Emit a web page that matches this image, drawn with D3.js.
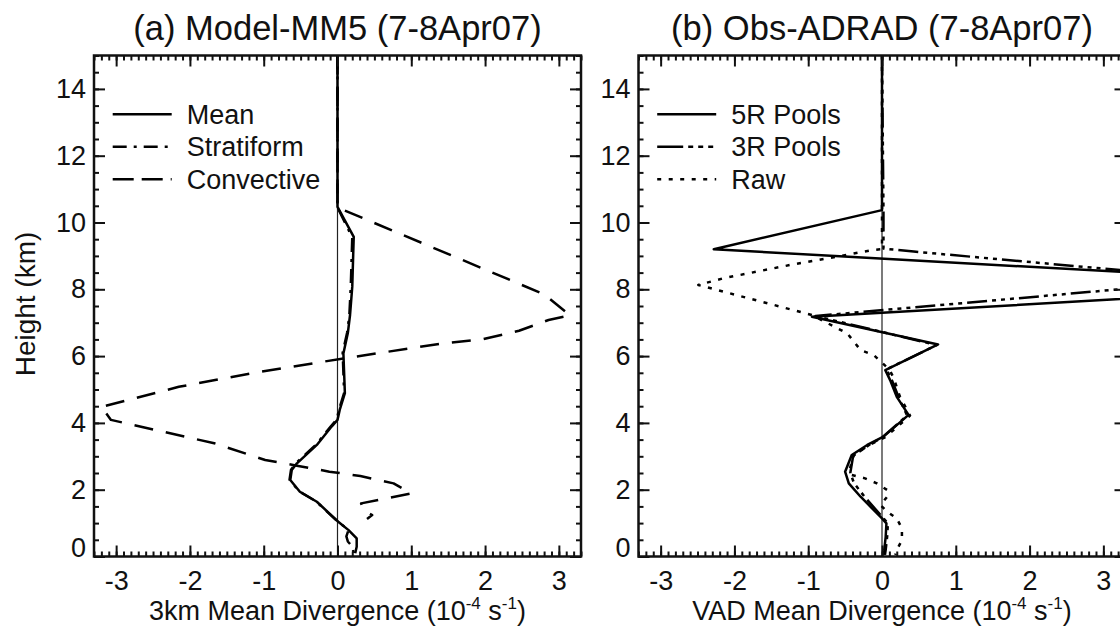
<!DOCTYPE html>
<html>
<head>
<meta charset="utf-8">
<script src="https://cdn.jsdelivr.net/npm/d3@7"></script>
<style>
body { margin: 0; background: #fff; }
svg { display: block; font-family: 'Liberation Sans', Arial, sans-serif; }
</style>
</head>
<body>
<svg id="drawing_region"></svg>
<script>
// divergence (10^-4 s^-1) against height (km)
const meanHgt  = [15, 10.47, 9.57, 8.08, 7.23, 6.69, 6.08, 4.89, 4.39, 4.09, 3.89, 3.34, 2.79, 2.59, 2.29, 1.94, 1.64, 1.04, 0.79, 0.54, 0.29, 0.1];
const meanDiv  = [0, 0, 0.22, 0.2, 0.17, 0.14, 0.08, 0.1, 0.03, 0, -0.08, -0.28, -0.55, -0.62, -0.64, -0.51, -0.28, 0.01, 0.15, 0.26, 0.26, 0.24];
const stratHgt = [15, 10.45, 9.55, 8.1, 7.2, 6.7, 6.1, 4.9, 4.4, 4.1, 3.9, 3.35, 2.8, 2.6, 2.3, 1.95, 1.65, 1.05, 0.8, 0.6, 0.45, 0.3, 0.1];
const stratDiv = [0, 0, 0.2, 0.18, 0.16, 0.13, 0.07, 0.09, 0.02, -0.01, -0.09, -0.29, -0.56, -0.63, -0.65, -0.52, -0.29, 0.0, 0.15, 0.12, 0.14, 0.2, 0.22];
const convHgt  = [15, 10.45, 7.85, 7.22, 7.08, 6.76, 6.51, 6.38, 5.93, 5.48, 5.08, 4.48, 4.09, 3.39, 2.89, 2.72, 2.54, 2.41, 2.19, 1.89, 1.59, 1.39, 1.24, 1.12];
const convDiv  = [0, 0, 2.8, 3.15, 2.86, 2.46, 1.98, 1.43, 0.08, -1.18, -2.15, -3.2, -3.07, -1.67, -0.98, -0.55, -0.11, 0.31, 0.76, 1.0, 0.32, 0.35, 0.47, 0.4];

const r5Hgt  = [15, 10.37, 9.2, 8.12, 7.18, 6.35, 5.58, 5.28, 4.78, 4.24, 3.59, 3.34, 3.04, 2.54, 2.19, 1.79, 1.14, 0.99, 0.59, 0.19, 0.05];
const r5Div  = [0, 0, -2.28, 6.5, -0.95, 0.76, 0.045, 0.11, 0.2, 0.36, 0.02, -0.2, -0.41, -0.5, -0.45, -0.29, 0, 0.06, 0.05, 0.03, 0.02];
const r3Hgt  = [15, 10.35, 9.22, 9.13, 8.5, 8.0, 7.2, 6.33, 5.6, 5.3, 4.8, 4.22, 3.58, 3.33, 3.02, 2.5, 2.2, 1.8, 1.14, 0.99, 0.6, 0.2, 0.05];
const r3Div  = [0, 0.02, 0.02, 0.43, 3.6, 3.22, -0.9, 0.74, 0.06, 0.13, 0.22, 0.34, 0.01, -0.18, -0.39, -0.43, -0.38, -0.24, 0.02, 0.08, 0.07, 0.05, 0.04];
const rawHgt = [15, 9.2, 9.18, 8.98, 8.73, 8.33, 8.13, 7.23, 6.68, 6.18, 6.03, 5.8, 5.6, 5.34, 4.8, 4.22, 3.58, 3.33, 3.04, 2.6, 2.44, 2.34, 2.19, 1.99, 1.79, 1.54, 1.34, 1.14, 0.84, 0.49, 0.19, 0.05];
const rawDiv = [0, 0, -0.11, -0.61, -1.24, -2.15, -2.49, -0.95, -0.47, -0.29, -0.11, 0, 0.1, 0.16, 0.24, 0.38, 0.05, -0.18, -0.38, -0.44, -0.41, -0.23, -0.07, 0.07, 0.07, -0.02, 0.07, 0.2, 0.27, 0.27, 0.2, 0.18];

const xTicks = [-3, -2, -1, 0, 1, 2, 3];
const yTicks = [0, 2, 4, 6, 8, 10, 12, 14];
const xMinor = d3.range(-33, 34).map(d => d / 10);
const yMinor = d3.range(0, 31).map(d => d / 2);

const svg = d3.select('#drawing_region')
    .attr('width', 1120)
    .attr('height', 627);

class Profile {

    constructor( config, series ) {
        this.config = config;
        this.series = series;
        this.init();
    }

    init() {
        let self = this;
        const c = self.config;

        self.chart = svg.append('g')
            .attr('transform', `translate(${c.left}, ${c.top})`);

        self.xscale = d3.scaleLinear()
            .domain([-3.3, 3.3])
            .range([0, c.width]);

        self.yscale = d3.scaleLinear()
            .domain([0, 15])
            .range([c.height, 0]);

        self.chart.append('clipPath')
            .attr('id', c.id + '_clip')
          .append('rect')
            .attr('width', c.width)
            .attr('height', c.height);
    }

    render() {
        let self = this;
        const c = self.config;
        const x = self.xscale, y = self.yscale;

        // zero line
        self.chart.append('line')
            .attr('x1', x(0)).attr('x2', x(0))
            .attr('y1', 0).attr('y2', c.height)
            .attr('stroke', '#222')
            .attr('stroke-width', 1.2);

        const line = d3.line()
            .x(d => x(d[0]))
            .y(d => y(d[1]));

        self.chart.append('g')
            .attr('clip-path', `url(#${c.id}_clip)`)
          .selectAll('path')
            .data(self.series)
            .join('path')
            .attr('d', s => line(d3.zip(s.div, s.hgt)))
            .attr('fill', 'none')
            .attr('stroke', '#000')
            .attr('stroke-width', 2.5)
            .attr('stroke-linejoin', 'round')
            .attr('stroke-dasharray', s => s.dash);

        // axes: ticks point inward on all four sides
        const fmt = d => String(d);
        const axes = [
            [d3.axisBottom(x).tickValues(xTicks).tickSize(-11).tickPadding(14).tickFormat(fmt), `translate(0, ${c.height})`],
            [d3.axisBottom(x).tickValues(xMinor).tickSize(-5).tickFormat(''), `translate(0, ${c.height})`],
            [d3.axisTop(x).tickValues(xTicks).tickSize(-11).tickFormat(''), null],
            [d3.axisTop(x).tickValues(xMinor).tickSize(-5).tickFormat(''), null],
            [d3.axisLeft(y).tickValues(yTicks).tickSize(-11).tickPadding(8).tickFormat(fmt), null],
            [d3.axisLeft(y).tickValues(yMinor).tickSize(-5).tickFormat(''), null],
            [d3.axisRight(y).tickValues(yTicks).tickSize(-11).tickFormat(''), `translate(${c.width}, 0)`],
            [d3.axisRight(y).tickValues(yMinor).tickSize(-5).tickFormat(''), `translate(${c.width}, 0)`]
        ];
        axes.forEach(([ax, tr]) => {
            const g = self.chart.append('g').call(ax);
            if (tr) g.attr('transform', tr);
            g.attr('font-family', null).attr('font-size', 27);
            g.select('.domain').remove();
            g.selectAll('.tick line').attr('stroke', '#111').attr('stroke-width', 2);
            g.selectAll('.tick text').attr('fill', '#111');
        });

        self.chart.append('rect')
            .attr('width', c.width)
            .attr('height', c.height)
            .attr('fill', 'none')
            .attr('stroke', '#111')
            .attr('stroke-width', 2.5);

        // title and axis title
        svg.append('text')
            .attr('x', c.left + c.width / 2)
            .attr('y', 40)
            .attr('text-anchor', 'middle')
            .attr('font-size', 34.5)
            .attr('fill', '#111')
            .text(c.title);

        const xt = svg.append('text')
            .attr('x', c.left + c.width / 2)
            .attr('y', 620)
            .attr('text-anchor', 'middle')
            .attr('font-size', 27)
            .attr('fill', '#111');
        xt.append('tspan').text(c.xlabel + ' (10');
        xt.append('tspan').attr('font-size', 17).attr('dy', -11).text('-4');
        xt.append('tspan').attr('dy', 11).text(' s');
        xt.append('tspan').attr('font-size', 17).attr('dy', -11).text('-1');
        xt.append('tspan').attr('dy', 11).text(')');

        // legend
        const leg = self.chart.append('g')
            .selectAll('g')
            .data(self.series)
            .join('g')
            .attr('transform', (s, i) => `translate(18.7, ${58.8 + i * 32.5})`);
        leg.append('line')
            .attr('x1', 0).attr('x2', 59)
            .attr('stroke', '#000')
            .attr('stroke-width', 2.5)
            .attr('stroke-dasharray', s => s.legendDash || s.dash);
        leg.append('text')
            .attr('x', 74)
            .attr('y', 9.5)
            .attr('font-size', 27)
            .attr('fill', '#111')
            .text(s => s.name);
    }
}

const panelA = new Profile(
    { id: 'a', left: 94, top: 55.5, width: 487, height: 501,
      title: '(a) Model-MM5 (7-8Apr07)', xlabel: '3km Mean Divergence' },
    [
        { name: 'Mean', div: meanDiv, hgt: meanHgt, dash: null },
        { name: 'Stratiform', div: stratDiv, hgt: stratHgt, dash: '14,7,3,7' },
        { name: 'Convective', div: convDiv, hgt: convHgt, dash: '19,13', legendDash: '21,8' }
    ]);
panelA.render();

const panelB = new Profile(
    { id: 'b', left: 638.5, top: 55.5, width: 487, height: 501,
      title: '(b) Obs-ADRAD (7-8Apr07)', xlabel: 'VAD Mean Divergence' },
    [
        { name: '5R Pools', div: r5Div, hgt: r5Hgt, dash: null },
        { name: '3R Pools', div: r3Div, hgt: r3Hgt, dash: '20,5,4,5,4,5,4,5', legendDash: '26,5,5,5,5,5,5,5' },
        { name: 'Raw', div: rawDiv, hgt: rawHgt, dash: '4,7.5' }
    ]);
panelB.render();

svg.append('text')
    .attr('transform', 'translate(35, 304) rotate(-90)')
    .attr('text-anchor', 'middle')
    .attr('font-size', 28)
    .attr('fill', '#111')
    .text('Height (km)');

// IDL lifts the "0" height label off the corner
svg.selectAll('.tick text')
    .filter(function(d) { return d === 0 && +this.getAttribute('x') < 0; })
    .attr('y', -9);
</script>
</body>
</html>
